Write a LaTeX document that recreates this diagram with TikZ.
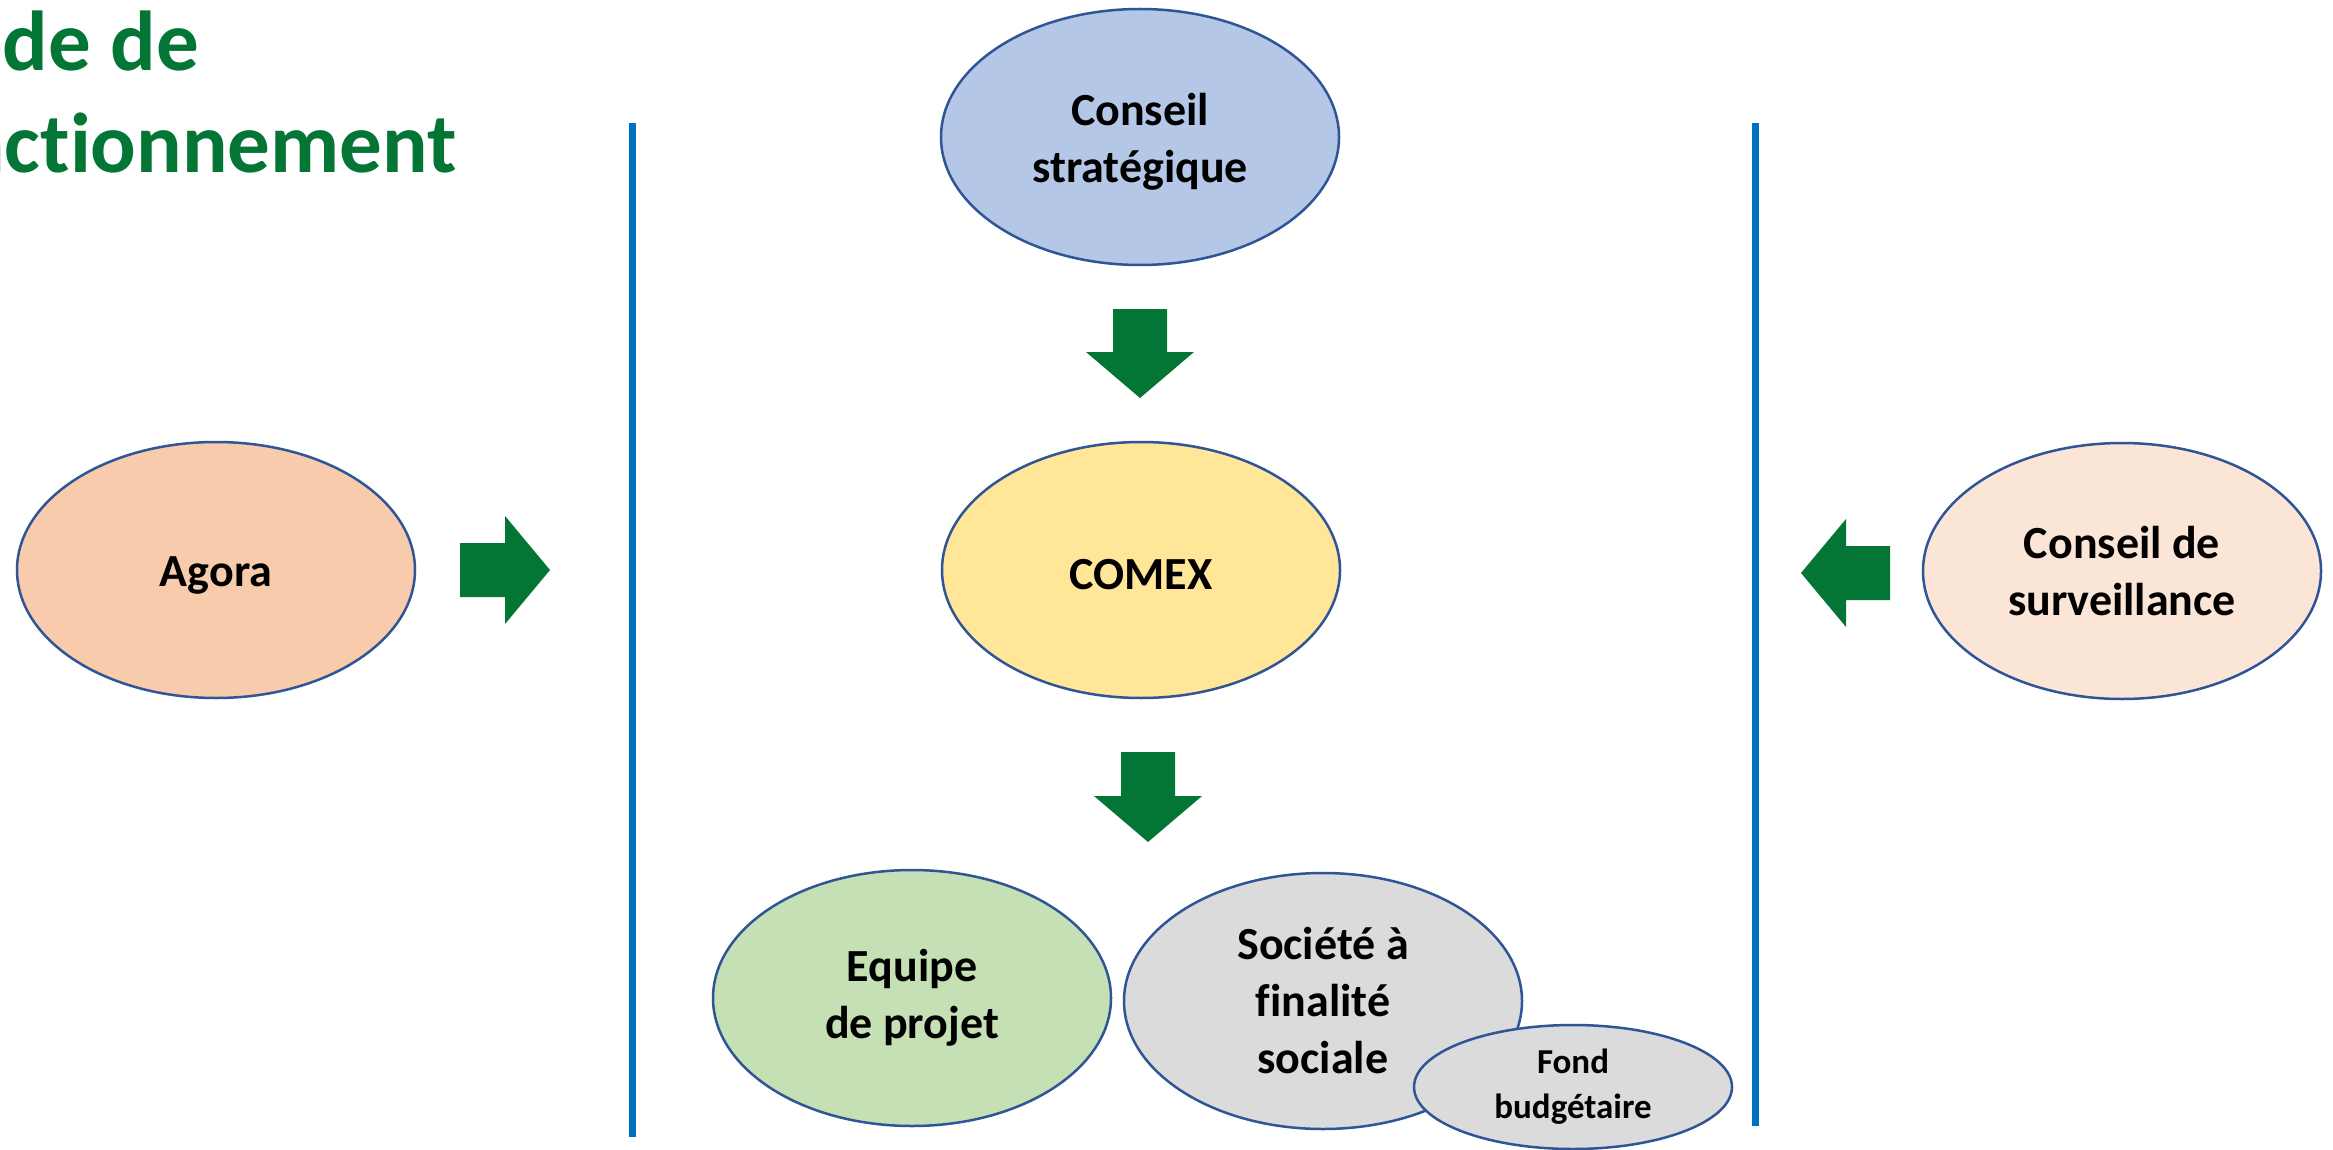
\documentclass[tikz,border=0pt]{standalone}
\usepackage{fontspec}
\setmainfont{Carlito}[Ligatures=NoCommon]
\usetikzlibrary{shapes.geometric}
\definecolor{outl}{HTML}{2F5597}
\definecolor{gr}{HTML}{037635}
\definecolor{bl}{HTML}{0070C0}
\definecolor{cBlue}{HTML}{B4C7E7}
\definecolor{cYel}{HTML}{FFE699}
\definecolor{cPeach}{HTML}{F8CBAD}
\definecolor{cPale}{HTML}{FBE5D6}
\definecolor{cGreen}{HTML}{C5E0B4}
\definecolor{cGray}{HTML}{DBDBDB}
\begin{document}
\begin{tikzpicture}[x=1pt,y=-1pt,
  oval/.style={ellipse, draw=outl, line width=2.5pt, minimum width=398pt, minimum height=256pt,
    inner sep=0pt, align=center, font=\fontsize{46}{57}\selectfont\bfseries},
  blockarrow/.style={fill=gr},
  divider/.style={draw=bl, line width=7pt},
  titletext/.style={text=gr, font=\fontsize{85}{104}\selectfont\bfseries, anchor=base east, inner sep=0pt}]
\useasboundingbox (0,0) rectangle (2333,1150);
\fill[white] (0,0) rectangle (2333,1150);
% title (cut off at the left edge, as in the reference)
\begin{scope}
  \clip (0,0) rectangle (2333,1150);
  \node[titletext] (t1) at (199,71) {Mode de};
  \node[titletext] (t2) at (457,173) {fonctionnement};
\end{scope}
% dividers
\coordinate (d1a) at (632,123);  \coordinate (d1b) at (632,1137);
\coordinate (d2a) at (1755,123); \coordinate (d2b) at (1755,1126);
\draw[divider] (d1a) -- (d1b);
\draw[divider] (d2a) -- (d2b);
% ovals
\node[oval, fill=cBlue, text height=99pt] (cs) at (1140,137)  {Conseil\\stratégique};
\node[oval, fill=cYel, text height=40pt]  (comex)  at (1141,570)  {COMEX};
\node[oval, fill=cPeach, text height=40pt] (agora)  at (216,570)   {Agora};
\node[oval, fill=cPale]  (surv)   at (2122,571)  {Conseil de\\surveillance};
\node[oval, fill=cGreen] (equipe) at (912,998)   {Equipe\\de projet};
\node[oval, fill=cGray]  (societe) at (1323,1001) {Société à\\finalité\\sociale};
\node[oval, fill=cGray, minimum width=318pt, minimum height=124pt,
      font=\fontsize{35}{45}\selectfont\bfseries] (fond) at (1573,1087) {Fond\\budgétaire};
% block arrows
\fill[blockarrow] (460,543) -- (505,543) -- (505,516) -- (550,570) -- (505,624) -- (505,597) -- (460,597) -- cycle;
\fill[blockarrow] (1113,309) -- (1167,309) -- (1167,352) -- (1194,352) -- (1140,398) -- (1086,352) -- (1113,352) -- cycle;
\fill[blockarrow] (1121,752) -- (1175,752) -- (1175,796) -- (1202,796) -- (1148,842) -- (1094,796) -- (1121,796) -- cycle;
\fill[blockarrow] (1890,546) -- (1846,546) -- (1846,519) -- (1801,573) -- (1846,627) -- (1846,600) -- (1890,600) -- cycle;
\end{tikzpicture}
\end{document}
